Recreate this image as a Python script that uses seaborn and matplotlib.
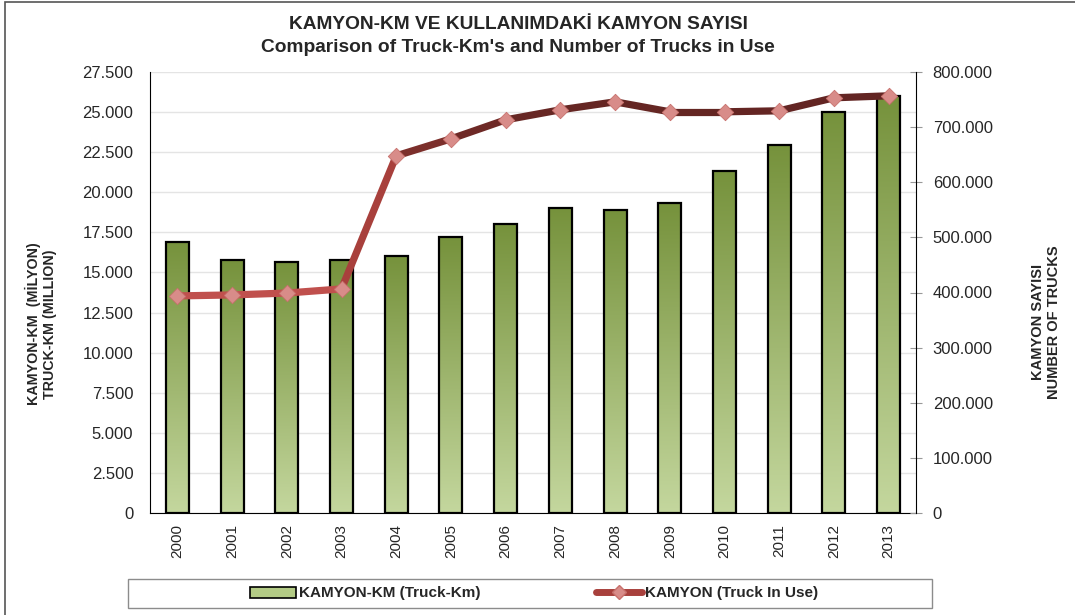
import matplotlib
matplotlib.use("Agg")
import matplotlib.pyplot as plt
import numpy as np
import pandas as pd
import seaborn as sns
from matplotlib.collections import LineCollection
from matplotlib.colors import LinearSegmentedColormap
from matplotlib.lines import Line2D
from matplotlib.patches import Patch, Rectangle
from matplotlib.ticker import FuncFormatter, MultipleLocator

years = ["2000", "2001", "2002", "2003", "2004", "2005", "2006",
         "2007", "2008", "2009", "2010", "2011", "2012", "2013"]
truck_km = [16900, 15770, 15650, 15770, 16020, 17210, 18020,
            19010, 18890, 19330, 21320, 22940, 25000, 26000]
trucks = [393800, 395600, 399000, 406500, 647900, 678700, 713200,
          731400, 745900, 727800, 727800, 729600, 753200, 756800]
segment_colors = ["#C0504D", "#C0504D", "#C0504D", "#A8403C", "#7C2F2B",
                  "#6E2926", "#672724", "#652623", "#652623", "#642623",
                  "#642523", "#632523", "#632523"]

title = "KAMYON-KM VE KULLANIMDAKİ KAMYON SAYISI\nComparison of Truck-Km's and Number of Trucks in Use"
left_label = "KAMYON-KM  (MİLYON)\nTRUCK-KM (MILLION)"
right_label = "KAMYON SAYISI\nNUMBER OF TRUCKS"
bar_name = "KAMYON-KM (Truck-Km)"
line_name = "KAMYON (Truck In Use)"

sns.set_style("white")
plt.rcParams["font.family"] = ["Liberation Sans", "DejaVu Sans"]


def dot_fmt(v, pos):
    return f"{v:,.0f}".replace(",", ".")


df = pd.DataFrame({"year": years, "km": truck_km, "trucks": trucks})

fig = plt.figure(figsize=(10.75, 6.15), dpi=100)
ax = fig.add_axes([150 / 1075, 1 - 513 / 615, 766 / 1075, 441 / 615])

sns.barplot(data=df, x="year", y="km", color="#9BB564", width=0.42,
            edgecolor="black", linewidth=1.6, ax=ax, zorder=2)

# vertical gradient inside each bar
bar_cmap = LinearSegmentedColormap.from_list("g", ["#C4D79E", "#76923C"])
grad = np.linspace(0, 1, 256).reshape(-1, 1)
for bar in ax.patches:
    x0, y0 = bar.get_x(), bar.get_y()
    w, h = bar.get_width(), bar.get_height()
    im = ax.imshow(grad, extent=[x0, x0 + w, y0, y0 + h], origin="lower",
                   cmap=bar_cmap, aspect="auto", zorder=2.5)
    im.set_clip_path(bar)
    bar.set_facecolor("none")
    bar.set_zorder(3)

ax.set_xlim(-0.5, len(years) - 0.5)
ax.set_ylim(0, 27500)
ax.yaxis.set_major_locator(MultipleLocator(2500))
ax.yaxis.set_major_formatter(FuncFormatter(dot_fmt))
ax.grid(axis="y", color="#E4E4E4", linewidth=1, zorder=0)
ax.set_axisbelow(True)
ax.set_xlabel("")
ax.set_ylabel("")
ax.tick_params(axis="y", length=0, labelsize=12, pad=12)
ax.tick_params(axis="x", which="major", length=0, labelsize=11, pad=8,
               labelrotation=90)
ax.set_xticks(np.arange(-0.5, len(years), 1), minor=True)
ax.tick_params(axis="x", which="minor", length=5, color="#888888", direction="out")
for side in ["top", "right"]:
    ax.spines[side].set_visible(False)
ax.spines["left"].set_color("black")
ax.spines["bottom"].set_color("black")

ax2 = ax.twinx()
xs = np.arange(len(years))
pts = np.column_stack([xs, trucks]).reshape(-1, 1, 2)
segs = np.concatenate([pts[:-1], pts[1:]], axis=1)
lc = LineCollection(segs, colors=segment_colors, linewidths=5.2,
                    capstyle="round", joinstyle="round", zorder=4)
ax2.add_collection(lc)
sns.scatterplot(x=xs, y=trucks, marker="D", s=70, color="#D88C89",
                edgecolor="#C8706C", linewidth=0.6, ax=ax2, zorder=5)
ax2.set_xlim(-0.5, len(years) - 0.5)
ax2.set_ylim(0, 800000)
ax2.yaxis.set_major_locator(MultipleLocator(100000))
ax2.yaxis.set_major_formatter(FuncFormatter(dot_fmt))
ax2.tick_params(axis="y", direction="inout", length=8, color="#999999",
                labelsize=12, pad=8)
ax2.set_ylabel("")
for side in ["top", "left", "bottom"]:
    ax2.spines[side].set_visible(False)
ax2.spines["right"].set_color("black")

fig.text(518 / 1075, 1 - 36 / 615, title, ha="center", va="center",
         fontsize=13.8, fontweight="bold", linespacing=1.4)
fig.text(41 / 1075, 1 - 324 / 615, left_label, ha="center", va="center",
         rotation=90, fontsize=10.3, fontweight="bold", linespacing=1.1)
fig.text(1046 / 1075, 1 - 322 / 615, right_label, ha="center", va="center",
         rotation=90, fontsize=10.5, fontweight="bold", linespacing=1.15)

# legend box and entries
fig.patches.append(Rectangle((128 / 1075, 7 / 615), 804 / 1075, 29 / 615,
                             transform=fig.transFigure, facecolor="white",
                             edgecolor="#8C8C8C", linewidth=1))
handles = [
    Patch(facecolor="#B3CB85", edgecolor="black", linewidth=1.2),
    Line2D([0], [0], color="#A8403C", linewidth=5, marker="D", markersize=7,
           markerfacecolor="#D88C89", markeredgecolor="#C8706C"),
]
fig.legend(handles, [bar_name, line_name], loc="center",
           bbox_to_anchor=(534 / 1075, 21.5 / 615), ncol=2, frameon=False,
           handlelength=3.0, handleheight=0.7, handletextpad=0.2,
           columnspacing=7.6, prop={"weight": "bold", "size": 11})

# outer border
fig.patches.append(Rectangle((5 / 1075, -0.1), 1.2, 1 - 2 / 615 + 0.1,
                             transform=fig.transFigure, facecolor="none",
                             edgecolor="#555555", linewidth=1.2))

fig.savefig("out.png", dpi=100)
